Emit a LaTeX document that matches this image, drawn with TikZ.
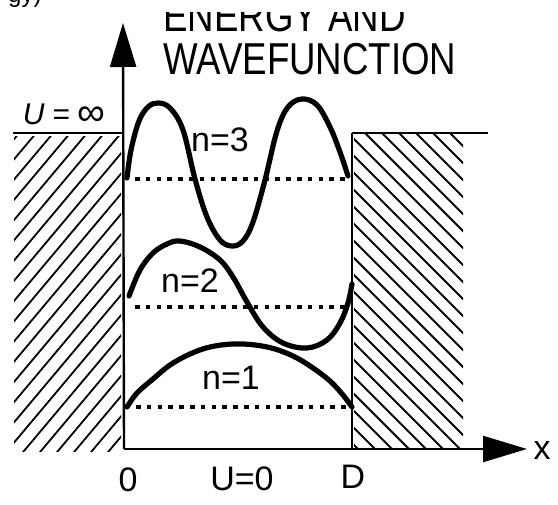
\documentclass[tikz,border=0pt]{standalone}
\usepackage{fontspec}
\setmainfont{Liberation Sans}
\usetikzlibrary{arrows.meta}
\begin{document}
\begin{tikzpicture}[x=1pt,y=-1pt,
  axisline/.style={line width=2.4pt},
  hatchline/.style={line width=1.8pt},
  wave/.style={line width=5.2pt, line cap=round, line join=round},
  level/.style={line width=4.5pt, dash pattern=on 4.5pt off 6.3pt},
  lab/.style={font=\fontsize{34}{36}\selectfont, inner sep=0pt},
  ttl/.style={font=\fontsize{44.7}{48}\selectfont, inner sep=0pt, anchor=base west},
  bigtip/.style={-{Triangle[length=44pt,width=26pt]}}
]
\useasboundingbox (0,0) rectangle (558,505);
\fill[white] (0,0) rectangle (558,505);

% coordinates
\coordinate (O) at (124,449);
\coordinate (ytip) at (123,23);
\coordinate (xtip) at (527,449);
\coordinate (Dbot) at (352,449);
\coordinate (Dtop) at (352,133);
\coordinate (Ltop) at (124,133);
\coordinate (Lend) at (13,133);
\coordinate (Rend) at (488,133);

% hatching left wall
\begin{scope}
  \clip (14,137) rectangle (121,452);
  \foreach \k in {0,...,40} \draw[hatchline] (4.7+17*\k,130) -- ++(-300,357);
\end{scope}
% hatching right wall
\begin{scope}
  \clip (354,135) rectangle (463,448);
  \foreach \k in {0,...,45} \draw[hatchline] (-301+17*\k,130) -- ++(330,330);
\end{scope}

% walls and axes
\draw[axisline] (Lend) -- (Ltop);
\draw[axisline] (Dtop) -- (Rend);
\draw[axisline] (Dbot) -- (Dtop);
\draw[axisline, bigtip] (O) -- (ytip);
\draw[axisline, bigtip] (O) -- (xtip);

% energy levels
\coordinate (l3a) at (135,179); \coordinate (l3b) at (347,179);
\coordinate (l2a) at (135,307); \coordinate (l2b) at (349,307);
\coordinate (l1a) at (136,407); \coordinate (l1b) at (347,407);
\draw[level] (l3a) -- (l3b);
\draw[level] (l2a) -- (l2b);
\draw[level] (l1a) -- (l1b);

% wavefunctions
\draw[wave] plot[smooth, tension=0.6] coordinates {(127,178) (131,150) (139,121) (148,107) (158,103) (170,108) (183,130) (195,179) (207,217) (220,240) (232,246) (243,241) (253,222) (265,180) (277,131) (288,107) (302,99) (317,105) (330,127) (340,152) (348,176)};
\draw[wave] plot[smooth, tension=0.6] coordinates {(129,296) (140,270) (153,253) (167,244) (180,241) (200,247) (220,260) (233,277) (247,302) (263,327) (283,343) (307,348) (327,340) (340,323) (348,303) (352,284)};
\draw[wave] plot[smooth, tension=0.6] coordinates {(127,407) (137,393) (153,379) (170,365) (190,354) (210,347) (233,344) (255,345) (275,349) (295,357) (313,368) (330,381) (343,395) (352,407)};

% labels
\node[lab] (n3) at (220,140) {n=3};
\node[lab] (n2) at (190,281) {n=2};
\node[lab] (n1) at (231,378) {n=1};
\node[lab] (zero) at (128,480) {0};
\node[lab] (U0) at (242,479) {U=0};
\node[lab] (D) at (353,477) {D};
\node[lab] (xl) at (542,451) {x};
\node[inner sep=0pt, font=\fontsize{30}{32}\selectfont] (Uinf) at (64,115) {\textit{U}\hspace{8pt}=\hspace{7pt}\raisebox{-1pt}{\scalebox{1.3}{∞}}};

% title
\begin{scope}
  \clip (150,13) rectangle (480,40);
  \node[ttl] (t1) at (163,32) {\scalebox{0.82}[1]{ENERGY AND}};
\end{scope}
\node[ttl] (t2) at (163,75) {\scalebox{0.82}[1]{WAVEFUNCTION}};
\begin{scope}
  \clip (0,0) rectangle (60,20);
  \node[inner sep=0pt, anchor=base west, font=\fontsize{24}{26}\selectfont] (frag) at (8,3) {gy)};
\end{scope}
\end{tikzpicture}
\end{document}
